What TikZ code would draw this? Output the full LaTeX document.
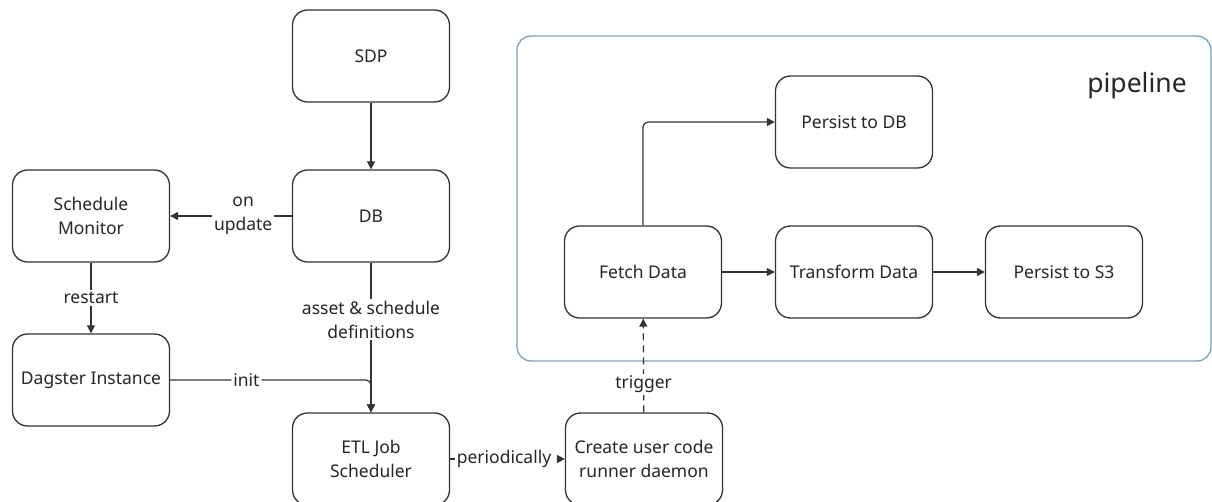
\documentclass[tikz,border=0pt]{standalone}
\usepackage{fontspec}
\setmainfont{Noto Sans}
\usetikzlibrary{arrows.meta}
\definecolor{linegray}{RGB}{51,51,51}
\definecolor{groupblue}{RGB}{110,165,200}
\tikzset{
  box/.style={draw=linegray, line width=1.3pt, rounded corners=15pt, fill=white,
    minimum width=157pt, minimum height=92pt, align=center, inner sep=2pt,
    font=\fontsize{17.5}{24}\selectfont, text=black!85},
  lbl/.style={fill=white, align=center, inner sep=2pt,
    font=\fontsize{17.5}{24}\selectfont, text=black!85},
  conn/.style={draw=linegray, line width=1.2pt, -{Triangle[length=8pt,width=8pt]}},
  dashedconn/.style={conn, dash pattern=on 7pt off 5pt},
}
\begin{document}
\begin{tikzpicture}[x=1pt, y=-1pt]
            \useasboundingbox (0,0) rectangle (1212,502);

            % Draw the pipeline group
            \draw[groupblue, line width=1.3pt, rounded corners=14pt] (517,36) rectangle (1211,361);
            \node[font=\fontsize{26.5}{30}\selectfont, text=black!85] (pipe) at (1137,86) {pipeline};

            % Draw the boxes
            \node[box] (sdp) at (371,56) {SDP};
            \node[box] (db) at (371,216) {DB};
            \node[box] (monitor) at (91,216) {Schedule\\Monitor};
            \node[box] (dagster) at (91,380) {Dagster Instance};
            \node[box] (etl) at (371,459) {ETL Job\\Scheduler};
            \node[box] (runner) at (644,459) {Create user code\\runner daemon};
            \node[box] (fetch) at (643,272) {Fetch Data};
            \node[box] (pdb) at (854,122) {Persist to DB};
            \node[box] (transform) at (854,272) {Transform Data};
            \node[box] (ps3) at (1064,272) {Persist to S3};

            % Draw the connectors on the left
            \draw[conn] (sdp) -- (db);
            \draw[conn] (db) -- (monitor) node[lbl, pos=0.4] {on\\update};
            \draw[conn] (monitor) -- (dagster) node[lbl, midway] {restart};
            \draw[conn] (db) -- (etl) node[lbl, pos=0.38] {asset \& schedule\\definitions};
            \draw[conn, rounded corners=5pt] (dagster.east) -| (etl.north) node[lbl, pos=0.19] {init};
            \draw[dashedconn] (etl) -- (runner) node[lbl, pos=0.47] {periodically};

            % Draw the connectors into the pipeline
            \draw[dashedconn] (runner) -- (fetch) node[lbl, pos=0.3] {trigger};
            \draw[conn] (fetch) -- (transform);
            \draw[conn] (transform) -- (ps3);
            \draw[conn, rounded corners=5pt] (fetch.north) |- (pdb.west);

\end{tikzpicture}
\end{document}
